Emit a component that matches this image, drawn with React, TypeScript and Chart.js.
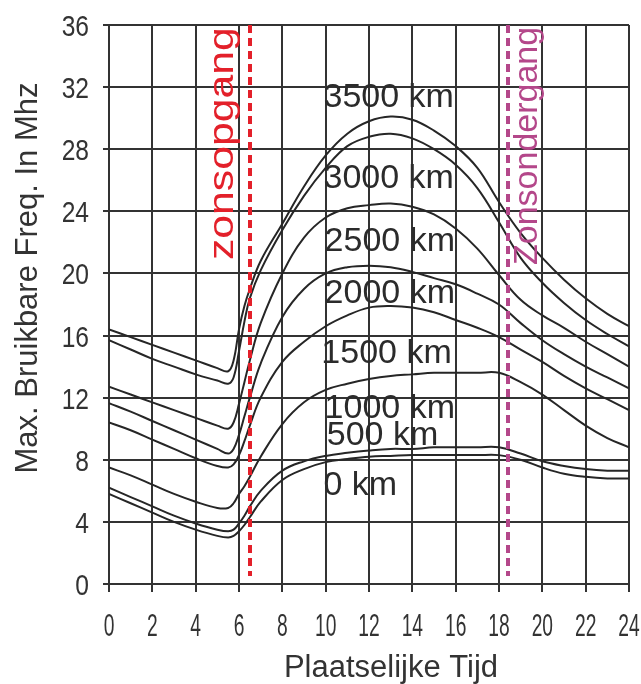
import React, { useEffect, useRef } from 'react';
import { Chart, registerables } from 'chart.js';

Chart.register(...registerables);

// ---- data ----
const hours = [0, 1, 2, 3, 4, 5, 5.5, 5.75, 6, 6.25, 6.5, 7, 8, 9, 10, 11, 12, 13, 14, 15, 16, 17, 18, 19, 20, 21, 22, 23, 24];

const km3500 = [16.4, 15.9, 15.4, 14.9, 14.4, 13.9, 13.7, 14.4, 16.4, 17.9, 19.0, 20.8, 23.2, 25.6, 27.6, 29.0, 29.8, 30.1, 29.9, 29.2, 28.2, 26.8, 24.6, 22.6, 21.0, 19.6, 18.4, 17.4, 16.6];
const km3000 = [15.7, 15.1, 14.5, 14.0, 13.5, 13.1, 12.9, 13.3, 15.0, 16.9, 18.4, 20.2, 22.8, 25.0, 26.8, 28.2, 28.8, 29.0, 28.7, 28.0, 27.0, 25.5, 23.3, 21.0, 19.4, 18.1, 17.0, 16.1, 15.3];
const km2500 = [12.7, 12.2, 11.7, 11.2, 10.7, 10.2, 10.0, 10.4, 11.6, 13.0, 14.4, 16.8, 20.0, 22.3, 23.6, 24.2, 24.4, 24.5, 24.3, 23.8, 22.9, 21.6, 19.9, 18.3, 17.3, 16.5, 15.6, 14.8, 14.0];
const km2000 = [11.65, 11.1, 10.5, 9.9, 9.3, 8.7, 8.4, 8.7, 9.6, 10.8, 12.0, 14.2, 17.2, 19.0, 20.0, 20.4, 20.5, 20.4, 20.1, 19.7, 19.3, 18.7, 18.0, 16.8, 15.7, 14.8, 14.0, 13.3, 12.6];
const km1500 = [10.4, 9.9, 9.3, 8.7, 8.1, 7.6, 7.5, 7.7, 8.3, 9.2, 10.2, 12.0, 14.3, 15.6, 16.6, 17.3, 17.8, 17.9, 17.8, 17.5, 17.0, 16.5, 15.9, 15.1, 14.3, 13.4, 12.6, 11.9, 11.2];
const km1000 = [7.5, 7.0, 6.4, 5.8, 5.3, 4.9, 4.9, 5.2, 5.8, 6.3, 6.9, 8.2, 10.3, 11.7, 12.5, 12.9, 13.2, 13.4, 13.5, 13.6, 13.6, 13.6, 13.6, 13.0, 12.2, 11.2, 10.2, 9.4, 8.8];
const km500 = [6.2, 5.6, 5.0, 4.4, 3.9, 3.5, 3.4, 3.5, 3.9, 4.4, 5.0, 6.0, 7.3, 7.9, 8.25, 8.45, 8.6, 8.7, 8.7, 8.8, 8.8, 8.8, 8.8, 8.4, 7.9, 7.6, 7.4, 7.3, 7.3];
const km0 = [5.8, 5.2, 4.6, 4.0, 3.5, 3.1, 3.0, 3.1, 3.4, 3.8, 4.3, 5.3, 6.7, 7.4, 7.85, 8.05, 8.2, 8.25, 8.3, 8.3, 8.3, 8.3, 8.3, 8.0, 7.5, 7.1, 6.9, 6.8, 6.8];

const seriesNames = ['3500 km', '3000 km', '2500 km', '2000 km', '1500 km', '1000 km', '500 km', '0 km'];
const seriesValues = [km3500, km3000, km2500, km2000, km1500, km1000, km500, km0];

// label anchors (hour, MHz of text baseline)
const labelHours = [9.9, 9.9, 9.95, 9.95, 9.8, 9.95, 10.05, 9.9];
const labelValues = [30.72, 25.5, 21.44, 18.1, 14.23, 10.69, 8.95, 5.73];

const xTicks = [0, 2, 4, 6, 8, 10, 12, 14, 16, 18, 20, 22, 24];
const yTicks = [0, 4, 8, 12, 16, 20, 24, 28, 32, 36];

const sunriseHour = 6.5;
const sunsetHour = 18.4;
const sunriseText = 'zonsopgang';
const sunsetText = 'Zonsondergang';
const xTitle = 'Plaatselijke Tijd';
const yTitle = 'Max. Bruikbare Freq. In Mhz';

const FONT = '"Liberation Sans", Arial, Helvetica, sans-serif';
const RED = '#e3202a';
const PURPLE = '#b4478a';
const INK = '#2b2b2b';

const overlay = {
  id: 'overlay',
  afterDraw(chart: any) {
    const { ctx, chartArea } = chart;
    const xs = chart.scales.x;
    const ys = chart.scales.y;

    // tick labels
    ctx.save();
    ctx.fillStyle = '#333';
    ctx.textBaseline = 'alphabetic';
    ctx.font = `30px ${FONT}`;
    for (const v of yTicks) {
      const py = ys.getPixelForValue(v);
      ctx.save();
      ctx.translate(89, py + 11);
      ctx.scale(0.82, 1);
      ctx.textAlign = 'right';
      ctx.fillText(String(v), 0, 0);
      ctx.restore();
    }
    ctx.font = `31px ${FONT}`;
    for (const v of xTicks) {
      const px = xs.getPixelForValue(v);
      ctx.save();
      ctx.translate(px, 636);
      ctx.scale(0.62, 1);
      ctx.textAlign = 'center';
      ctx.fillText(String(v), 0, 0);
      ctx.restore();
    }
    ctx.restore();

    // axis titles
    ctx.save();
    ctx.fillStyle = '#333';
    ctx.font = `31px ${FONT}`;
    ctx.textAlign = 'center';
    ctx.textBaseline = 'alphabetic';
    ctx.fillText(xTitle, 391, 677);
    ctx.translate(37, 278);
    ctx.rotate(-Math.PI / 2);
    ctx.fillText(yTitle, 0, 0);
    ctx.restore();

    // curve labels
    ctx.save();
    ctx.fillStyle = INK;
    ctx.font = `34px ${FONT}`;
    ctx.textAlign = 'left';
    ctx.textBaseline = 'alphabetic';
    seriesNames.forEach((name, i) => {
      ctx.fillText(name, xs.getPixelForValue(labelHours[i]), ys.getPixelForValue(labelValues[i]));
    });
    ctx.restore();

    // sunrise / sunset lines
    const drawSun = (hour: number, color: string) => {
      const px = Math.round(xs.getPixelForValue(hour));
      ctx.save();
      ctx.strokeStyle = color;
      ctx.lineWidth = 4;
      ctx.setLineDash([8, 5]);
      ctx.beginPath();
      ctx.moveTo(px, chartArea.top);
      ctx.lineTo(px, 576);
      ctx.stroke();
      ctx.restore();
      return px;
    };
    const rx = drawSun(sunriseHour, RED);
    const sx = drawSun(sunsetHour, PURPLE);

    ctx.save();
    ctx.fillStyle = RED;
    ctx.font = `35px ${FONT}`;
    ctx.textAlign = 'left';
    ctx.textBaseline = 'alphabetic';
    ctx.translate(rx - 17, 260);
    ctx.rotate(-Math.PI / 2);
    ctx.scale(1.22, 1);
    ctx.fillText(sunriseText, 0, 0);
    ctx.restore();

    ctx.save();
    ctx.fillStyle = PURPLE;
    ctx.font = `34px ${FONT}`;
    ctx.textAlign = 'left';
    ctx.textBaseline = 'alphabetic';
    ctx.translate(sx + 29, 265);
    ctx.rotate(-Math.PI / 2);
    ctx.fillText(sunsetText, 0, 0);
    ctx.restore();
  },
};

export default function App() {
  const ref = useRef<HTMLCanvasElement>(null);

  useEffect(() => {
    if (!ref.current) return;
    const chart = new Chart(ref.current, {
      type: 'line',
      data: {
        datasets: seriesValues.map((vals, i) => ({
          label: seriesNames[i],
          data: hours.map((h, j) => ({ x: h, y: vals[j] })),
          borderColor: '#262626',
          borderWidth: 2,
          pointRadius: 0,
          fill: false,
          tension: 0.4,
        })),
      },
      options: {
        responsive: false,
        devicePixelRatio: 1,
        animation: false,
        layout: { padding: { top: 25, right: 12, left: 0, bottom: 0 } },
        plugins: { legend: { display: false }, tooltip: { enabled: false } },
        scales: {
          x: {
            type: 'linear',
            min: 0,
            max: 24,
            afterBuildTicks: (s: any) => {
              s.ticks = xTicks.map((v) => ({ value: v }));
            },
            afterFit: (s: any) => {
              s.height = 100;
            },
            ticks: { display: false },
            grid: { color: '#333', lineWidth: 2, drawTicks: true, tickLength: 8 },
            border: { display: true, color: '#333', width: 2 },
          },
          y: {
            type: 'linear',
            min: 0,
            max: 36,
            afterBuildTicks: (s: any) => {
              s.ticks = yTicks.map((v) => ({ value: v }));
            },
            afterFit: (s: any) => {
              s.width = 109;
            },
            ticks: { display: false },
            grid: { color: '#333', lineWidth: 2, drawTicks: true, tickLength: 6 },
            border: { display: true, color: '#333', width: 2 },
          },
        },
      },
      plugins: [overlay],
    } as any);
    return () => chart.destroy();
  }, []);

  return (
    <div style={{ position: 'absolute', left: 0, top: 0, width: 641, height: 684, background: '#fff' }}>
      <canvas ref={ref} width={641} height={684} style={{ display: 'block', width: 641, height: 684 }} />
    </div>
  );
}
